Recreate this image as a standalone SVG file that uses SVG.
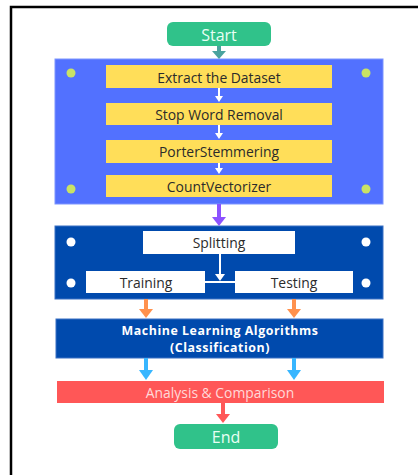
<svg xmlns="http://www.w3.org/2000/svg" width="418" height="475" viewBox="0 0 418 475">
<defs>
<style>
text{font-family:"Open Sans","Liberation Sans",sans-serif;text-anchor:middle;dominant-baseline:central}
.term{fill:#30c28a}
.term-t{fill:#e8fff4;font-size:16px}
.yel{fill:#ffde59}
.yel-t{fill:#2b2b2b;font-size:13.9px}
.wht{fill:#ffffff}
.wht-t{fill:#2b2b2b;font-size:13.9px}
.dot-y{fill:#c9e265}
.dot-w{fill:#ffffff}
.ml-t{fill:#ffffff;font-size:12.4px;font-weight:bold;letter-spacing:0.55px;dominant-baseline:alphabetic}
.an-t{fill:#ffd9d9;font-size:13.9px}
</style>
</defs>
<rect x="11" y="7" width="420" height="480" fill="none" stroke="#000" stroke-width="2.5"/>
<g id="start">
<rect class="term" x="167" y="22" width="104" height="24" rx="6"/>
<text class="term-t" x="219" y="34.5">Start</text>
</g>
<g id="preprocessing">
<rect x="55" y="59" width="328" height="145" fill="#5271ff" stroke="#7d95ff" stroke-width="1"/>
<circle class="dot-y" cx="71" cy="73" r="4.5"/>
<circle class="dot-y" cx="366" cy="73" r="4.5"/>
<circle class="dot-y" cx="71" cy="189" r="4.5"/>
<circle class="dot-y" cx="366" cy="189" r="4.5"/>
</g>
<g id="extract">
<rect class="yel" x="106" y="65" width="226" height="23"/>
<text class="yel-t" x="219" y="77">Extract the Dataset</text>
</g>
<g id="stopword">
<rect class="yel" x="106" y="103" width="226" height="22"/>
<text class="yel-t" x="219" y="114">Stop Word Removal</text>
</g>
<g id="porter">
<rect class="yel" x="106" y="140" width="226" height="23"/>
<text class="yel-t" x="219" y="151">PorterStemmering</text>
</g>
<g id="countvec">
<rect class="yel" x="106" y="175" width="226" height="22"/>
<text class="yel-t" x="219" y="186">CountVectorizer</text>
</g>
<g id="split-panel">
<rect x="55" y="226" width="328" height="73" fill="#004aad" stroke="#3a70c4" stroke-width="1"/>
<circle class="dot-w" cx="71" cy="242" r="4.5"/>
<circle class="dot-w" cx="366" cy="242" r="4.5"/>
<circle class="dot-w" cx="71" cy="283" r="4.5"/>
<circle class="dot-w" cx="366" cy="283" r="4.5"/>
</g>
<g id="splitting">
<rect class="wht" x="143" y="231" width="152" height="23"/>
<text class="wht-t" x="219" y="242.5">Splitting</text>
</g>
<g id="training">
<rect class="wht" x="86" y="271" width="119" height="22"/>
<text class="wht-t" x="146" y="282">Training</text>
</g>
<g id="testing">
<rect class="wht" x="235" y="271" width="118" height="22"/>
<text class="wht-t" x="294" y="282">Testing</text>
</g>
<g id="ml">
<rect x="56" y="319" width="327" height="39" fill="#004aad" stroke="#3a70c4" stroke-width="1"/>
<text class="ml-t" x="220" y="334.5">Machine Learning Algorithms</text>
<text class="ml-t" x="220" y="351.8">(Classification)</text>
</g>
<g id="analysis">
<rect x="57" y="381" width="327" height="22" fill="#ff5757"/>
<text class="an-t" x="220" y="392">Analysis &amp; Comparison</text>
</g>
<g id="end">
<rect class="term" x="174" y="424" width="104" height="25" rx="6"/>
<text class="term-t" x="226" y="436.5">End</text>
</g>
<g id="connectors">
<path d="M219,46 V52" stroke="#4aa39f" stroke-width="4"/>
<path d="M212,51 H226 L219,59 Z" fill="#4aa39f"/>
<path d="M219,88 V97" stroke="#fff" stroke-width="2"/>
<path d="M215,96 H223 L219,102 Z" fill="#fff"/>
<path d="M219,125 V134" stroke="#fff" stroke-width="2"/>
<path d="M215,133 H223 L219,139 Z" fill="#fff"/>
<path d="M219,163 V169" stroke="#fff" stroke-width="2"/>
<path d="M215,168 H223 L219,174 Z" fill="#fff"/>
<path d="M219,204 V218" stroke="#8c52ff" stroke-width="4"/>
<path d="M212,217 H226 L219,226 Z" fill="#8c52ff"/>
<path d="M220,254 V274" stroke="#fff" stroke-width="2"/>
<path d="M215,274 H225 L220,281 Z" fill="#fff"/>
<path d="M205,282 H235" stroke="#fff" stroke-width="2"/>
<path d="M146,299 V310" stroke="#ff914d" stroke-width="4"/>
<path d="M139,309 H153 L146,318 Z" fill="#ff914d"/>
<path d="M294,299 V310" stroke="#ff914d" stroke-width="4"/>
<path d="M287,309 H301 L294,318 Z" fill="#ff914d"/>
<path d="M146,358 V371" stroke="#38b6ff" stroke-width="4"/>
<path d="M139,370 H153 L146,380 Z" fill="#38b6ff"/>
<path d="M294,358 V371" stroke="#38b6ff" stroke-width="4"/>
<path d="M287,370 H301 L294,380 Z" fill="#38b6ff"/>
<path d="M223,403 V415" stroke="#ff5757" stroke-width="4"/>
<path d="M216,414 H230 L223,423 Z" fill="#ff5757"/>
</g>
</svg>
